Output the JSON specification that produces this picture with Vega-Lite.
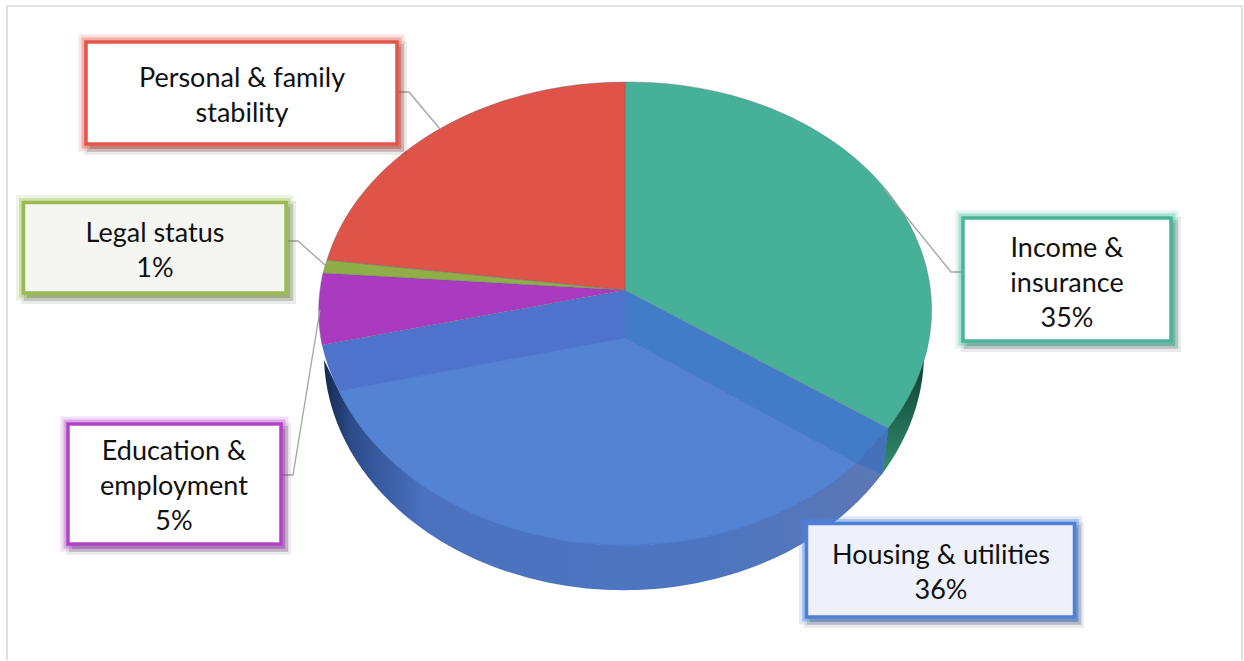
{"$schema":"https://vega.github.io/schema/vega-lite/v6.json","width":1244,"height":660,"autosize":"none","padding":0,"background":"white","config":{"view":{"stroke":null}},"datasets":{"slices":[{"category":"Income & insurance","share":35,"label":"Income &\ninsurance\n35%"},{"category":"Housing & utilities","share":36,"label":"Housing & utilities\n36%"},{"category":"Education & employment","share":5,"label":"Education &\nemployment\n5%"},{"category":"Legal status","share":1,"label":"Legal status\n1%"},{"category":"Personal & family stability","share":23,"label":"Personal & family\nstability"}]},"resolve":{"scale":{"shape":"independent","color":"independent","stroke":"independent","fill":"independent"}},"layer":[{"data":{"values":[{"part":"frame"}]},"mark":{"type":"point","shape":"M-615,331 L-615,-324 L620,-324 L620,331","filled":false,"stroke":"#d9d9d9","strokeWidth":1.6,"size":4,"opacity":1}},{"data":{"name":"slices"},"transform":[{"filter":"datum.category === 'Income & insurance'"}],"mark":{"type":"point","shape":"M266,98 L260,144 A300,237 0 0 0 302,25 A302,228 0 0 1 266,98 Z","filled":true,"size":4,"opacity":1,"strokeWidth":0,"fill":{"gradient":"linear","x1":0,"y1":0,"x2":0,"y2":1,"stops":[{"offset":0,"color":"#0f3a2e"},{"offset":0.55,"color":"#1f6a52"},{"offset":1,"color":"#338f72"}]}}},{"data":{"name":"slices"},"transform":[{"filter":"datum.category === 'Housing & utilities'"}],"mark":{"type":"point","shape":"M-298,30 A300,237 0 0 0 260,144 L234,133 A306,239 0 0 1 -283,61 Z","filled":true,"size":4,"opacity":1,"strokeWidth":0,"fill":{"gradient":"linear","x1":0,"y1":0,"x2":1,"y2":0,"stops":[{"offset":0,"color":"#16284f"},{"offset":0.05,"color":"#2c4c8c"},{"offset":0.18,"color":"#4a72bf"},{"offset":0.7,"color":"#4d75bf"},{"offset":1,"color":"#5c77b4"}]}}},{"data":{"name":"slices"},"transform":[{"filter":"datum.category === 'Housing & utilities'"}],"mark":{"type":"point","shape":"M3,-40 L-300,15 A306,228 0 0 0 -283,61 L3,8 Z","filled":true,"size":4,"opacity":1,"strokeWidth":0,"fill":"#4f72cd"}},{"data":{"name":"slices"},"transform":[{"filter":"datum.category === 'Housing & utilities'"}],"mark":{"type":"point","shape":"M3,-40 L3,8 L234,133 L266,98 Z","filled":true,"size":4,"opacity":1,"strokeWidth":0,"fill":"#427cc9"}},{"data":{"name":"slices"},"transform":[{"filter":"datum.category === 'Housing & utilities'"}],"mark":{"type":"point","shape":"M266,98 L234,133 L260,144 Z","filled":true,"size":4,"opacity":1,"strokeWidth":1,"stroke":"#4471ba","fill":"#4471ba"}},{"data":{"name":"slices"},"transform":[{"filter":"datum.category === 'Housing & utilities'"}],"mark":{"type":"point","shape":"M3,8 L234,133 A306,239 0 0 1 -283,61 Z","filled":true,"size":4,"opacity":1,"fill":"#5583d3","stroke":"#4a78cb","strokeWidth":1}},{"data":{"name":"slices"},"transform":[{"filter":"datum.category !== 'Housing & utilities'"}],"mark":{"type":"point","filled":true,"size":4,"opacity":1,"stroke":"#5b6470","strokeOpacity":0.45,"strokeWidth":0.8},"encoding":{"shape":{"field":"category","type":"nominal","legend":null,"scale":{"domain":["Income & insurance","Education & employment","Legal status","Personal & family stability"],"range":["M3,-40 L3,-248 A302,228 0 0 1 266,98 Z","M3,-40 L-300,15 A306,228 0 0 1 -299,-57 Z","M3,-40 L-299,-57 A306,228 0 0 1 -295,-70 Z","M3,-40 L-295,-70 A306,228 0 0 1 3,-248 Z"]}},"color":{"field":"category","type":"nominal","legend":null,"scale":{"domain":["Income & insurance","Education & employment","Legal status","Personal & family stability"],"range":["#47b098","#aa3abf","#90ae48","#e05348"]}}}},{"data":{"name":"slices"},"transform":[{"filter":"datum.category !== 'Housing & utilities'"}],"mark":{"type":"point","filled":false,"size":4,"opacity":1,"stroke":"#a3a3a3","strokeWidth":1.3},"encoding":{"shape":{"field":"category","type":"nominal","legend":null,"scale":{"domain":["Income & insurance","Education & employment","Legal status","Personal & family stability"],"range":["M339,-58 L329,-58 L262,-141","M-339,145 L-329,145 L-302,-20","M-334,-89 L-324,-89 L-297,-65","M-223,-238 L-213,-238 L-182,-201"]}}}},{"data":{"name":"slices"},"mark":{"type":"point","filled":true,"size":4,"opacity":1,"fill":"#000","fillOpacity":0.2,"stroke":"#000","strokeOpacity":0.08,"strokeWidth":12},"encoding":{"shape":{"field":"category","type":"nominal","legend":null,"scale":{"domain":["Income & insurance","Housing & utilities","Education & employment","Legal status","Personal & family stability"],"range":["M345,-107 H553 V16 H345 Z","M188,198 H456 V292 H188 Z","M-550,99 H-337 V219 H-550 Z","M-595,-123 H-332 V-32 H-595 Z","M-532,-283 H-221 V-181 H-532 Z"]}}}},{"data":{"name":"slices"},"mark":{"type":"point","filled":false,"size":4,"opacity":1,"stroke":"#000","strokeOpacity":0.15,"strokeWidth":6},"encoding":{"shape":{"field":"category","type":"nominal","legend":null,"scale":{"domain":["Income & insurance","Housing & utilities","Education & employment","Legal status","Personal & family stability"],"range":["M345,-107 H553 V16 H345 Z","M188,198 H456 V292 H188 Z","M-550,99 H-337 V219 H-550 Z","M-595,-123 H-332 V-32 H-595 Z","M-532,-283 H-221 V-181 H-532 Z"]}}}},{"data":{"name":"slices"},"mark":{"type":"point","filled":false,"size":4,"opacity":1,"strokeOpacity":0.18,"strokeWidth":15},"encoding":{"shape":{"field":"category","type":"nominal","legend":null,"scale":{"domain":["Income & insurance","Housing & utilities","Education & employment","Legal status","Personal & family stability"],"range":["M341,-112 H549 V11 H341 Z","M184.5,193.5 H452.5 V287 H184.5 Z","M-554,94 H-341 V214 H-554 Z","M-598.5,-127.5 H-336 V-37 H-598.5 Z","M-536,-288 H-225 V-186 H-536 Z"]}},"stroke":{"field":"category","type":"nominal","legend":null,"scale":{"domain":["Income & insurance","Housing & utilities","Education & employment","Legal status","Personal & family stability"],"range":["#4fc4a8","#4f86e6","#b84fd4","#9fc45c","#e85c50"]}}}},{"data":{"name":"slices"},"mark":{"type":"point","filled":false,"size":4,"opacity":1,"strokeOpacity":0.38,"strokeWidth":9},"encoding":{"shape":{"field":"category","type":"nominal","legend":null,"scale":{"domain":["Income & insurance","Housing & utilities","Education & employment","Legal status","Personal & family stability"],"range":["M341,-112 H549 V11 H341 Z","M184.5,193.5 H452.5 V287 H184.5 Z","M-554,94 H-341 V214 H-554 Z","M-598.5,-127.5 H-336 V-37 H-598.5 Z","M-536,-288 H-225 V-186 H-536 Z"]}},"stroke":{"field":"category","type":"nominal","legend":null,"scale":{"domain":["Income & insurance","Housing & utilities","Education & employment","Legal status","Personal & family stability"],"range":["#4fc4a8","#4f86e6","#b84fd4","#9fc45c","#e85c50"]}}}},{"data":{"name":"slices"},"mark":{"type":"point","filled":true,"size":4,"opacity":1,"strokeWidth":3.5},"encoding":{"shape":{"field":"category","type":"nominal","legend":null,"scale":{"domain":["Income & insurance","Housing & utilities","Education & employment","Legal status","Personal & family stability"],"range":["M341,-112 H549 V11 H341 Z","M184.5,193.5 H452.5 V287 H184.5 Z","M-554,94 H-341 V214 H-554 Z","M-598.5,-127.5 H-336 V-37 H-598.5 Z","M-536,-288 H-225 V-186 H-536 Z"]}},"fill":{"field":"category","type":"nominal","legend":null,"scale":{"domain":["Income & insurance","Housing & utilities","Education & employment","Legal status","Personal & family stability"],"range":["#ffffff","#eef1fa","#ffffff","#f5f6f1","#ffffff"]}},"stroke":{"field":"category","type":"nominal","legend":null,"scale":{"domain":["Income & insurance","Housing & utilities","Education & employment","Legal status","Personal & family stability"],"range":["#4bb39b","#4f7fd6","#b044c4","#9aba52","#e2564b"]}}}},{"data":{"name":"slices"},"mark":{"type":"text","font":"Lato","fontSize":27,"lineBreak":"\n","lineHeight":35,"align":"center","baseline":"middle","color":"#111111"},"encoding":{"text":{"field":"label","type":"nominal"},"x":{"field":"share","type":"quantitative","axis":null,"scale":{"domain":[1,5,23,35,36],"range":[155,174,242,1067,941],"zero":false,"nice":false}},"y":{"field":"share","type":"quantitative","axis":null,"scale":{"domain":[1,5,23,35,36],"range":[233.5,451.5,78.5,248.5,555.5],"zero":false,"nice":false}}}}]}
